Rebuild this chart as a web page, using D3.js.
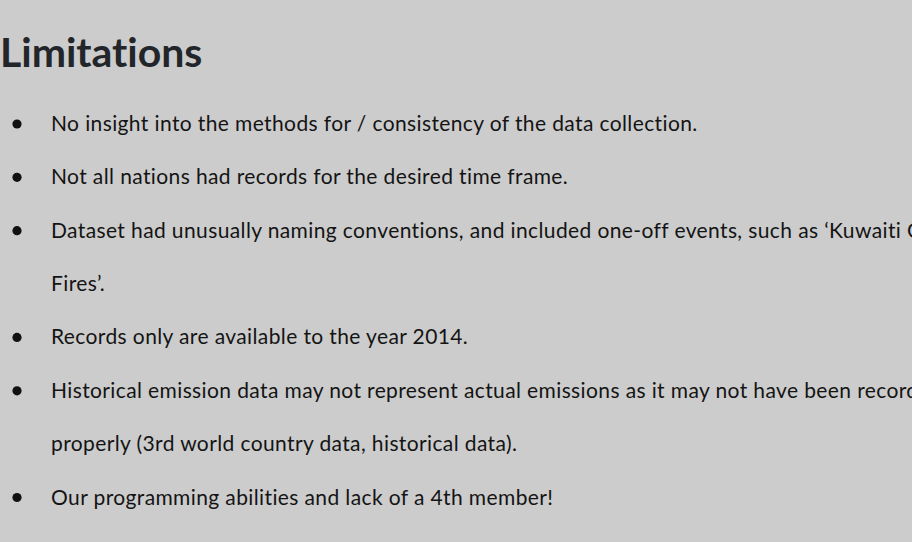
<!DOCTYPE html>
<html lang="en">
<head>
  <meta charset="UTF-8">
  <title>Limitations</title>
  <script src="https://d3js.org/d3.v7.min.js"></script>
  <style>
    html, body { margin: 0; padding: 0; background: #cccccc; overflow: hidden; }
    .title { font-family: Lato, sans-serif; font-weight: 700; font-size: 41px; fill: #22262a; }
    .item { font-family: Lato, sans-serif; font-weight: 400; font-size: 21px; fill: #141414; }
  </style>
</head>
<body>
  <svg id="slide" width="912" height="542"></svg>

  <script>
    const title = "Limitations";
    // each bullet, already split into the lines it wraps to on the slide
    const items = [
      ["No insight into the methods for / consistency of the data collection."],
      ["Not all nations had records for the desired time frame."],
      ["Dataset had unusually naming conventions, and included one-off events, such as \u2018Kuwaiti Oil",
       "Fires\u2019."],
      ["Records only are available to the year 2014."],
      ["Historical emission data may not represent actual emissions as it may not have been recorded",
       "properly (3rd world country data, historical data)."],
      ["Our programming abilities and lack of a 4th member!"]
    ];

    const svg = d3.select("#slide");

    // flatten to rows so every line sits on the same vertical rhythm
    const rows = [];
    items.forEach((lines, i) => {
      lines.forEach((t, j) => rows.push({item: i, first: j === 0, text: t}));
    });

    const y = d3.scaleLinear().domain([0, rows.length - 1]).range([131, 504.5]);

    const t = svg.append("text")
      .attr("class", "title")
      .attr("x", 0)
      .attr("y", 67)
      .text(title);

    const g = svg.append("g");

    g.selectAll("circle")
      .data(rows.filter(d => d.first))
      .join("circle")
      .attr("cx", 17)
      .attr("cy", d => y(rows.indexOf(d)) - 7)
      .attr("r", 4.6)
      .attr("fill", "#111");

    const texts = g.selectAll("text")
      .data(rows)
      .join("text")
      .attr("class", "item")
      .attr("x", 51)
      .attr("y", (d, i) => y(i))
      .text(d => d.text);

    // stretch letter spacing so the first line spans the same width as on the slide
    const w0 = texts.node().getComputedTextLength();
    const ls = (647 - w0) / rows[0].text.length;
    texts.style("letter-spacing", ls + "px");

    const tw = t.node().getComputedTextLength();
    t.style("letter-spacing", ((203 - tw) / title.length) + "px");
  </script>
</body>
</html>
